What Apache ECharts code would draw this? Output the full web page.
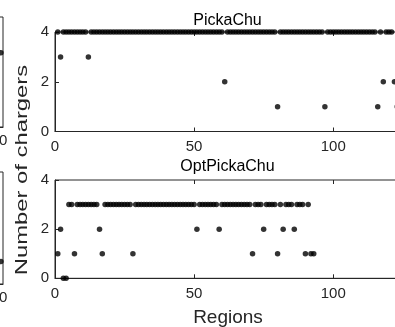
<!DOCTYPE html>
<html>
<head>
<meta charset="utf-8">
<script src="https://cdn.jsdelivr.net/npm/echarts@6/dist/echarts.min.js"></script>
<style>
html, body { margin: 0; padding: 0; background: #fff; }
#chart { width: 395px; height: 327px; }
</style>
</head>
<body>
<div id="chart"></div>
<script>
// chargers per region, index 0 = region 1
var pickaChu = [
    4, 3, 4, 4, 4, 4, 4, 4, 4, 4,
    4, 3, 4, 4, 4, 4, 4, 4, 4, 4,
    4, 4, 4, 4, 4, 4, 4, 4, 4, 4,
    4, 4, 4, 4, 4, 4, 4, 4, 4, 4,
    4, 4, 4, 4, 4, 4, 4, 4, 4, 4,
    4, 4, 4, 4, 4, 4, 4, 4, 4, 4,
    2, 4, 4, 4, 4, 4, 4, 4, 4, 4,
    4, 4, 4, 4, 4, 4, 4, 4, 4, 1,
    4, 4, 4, 4, 4, 4, 4, 4, 4, 4,
    4, 4, 4, 4, 4, 4, 1, 4, 4, 4,
    4, 4, 4, 4, 4, 4, 4, 4, 4, 4,
    4, 4, 4, 4, 4, 1, 4, 2, 4, 4,
    4, 2, 1
];
var optPickaChu = [
    1, 2, 0, 0, 3, 3, 1, 3, 3, 3,
    3, 3, 3, 3, 3, 2, 1, 3, 3, 3,
    3, 3, 3, 3, 3, 3, 3, 1, 3, 3,
    3, 3, 3, 3, 3, 3, 3, 3, 3, 3,
    3, 3, 3, 3, 3, 3, 3, 3, 3, 3,
    2, 3, 3, 3, 3, 3, 3, 3, 2, 3,
    3, 3, 3, 3, 3, 3, 3, 3, 3, 3,
    1, 3, 3, 3, 2, 3, 3, 3, 3, 1,
    3, 2, 3, 3, 3, 2, 3, 3, 3, 1,
    3, 1, 1
];
// cut-off neighbour panel on the left (only its edge is visible)
var sideTop = [[19.6, 2.7]];
var sideBottom = [[19.6, 0.8]];

var xTicks = [0, 50, 100];
var yTicks = [0, 2, 4];

function toPoints(arr) {
    var out = [];
    for (var i = 0; i < arr.length; i++) out.push([i + 1, arr[i]]);
    return out;
}

var font = 'Liberation Sans, Arial, Helvetica, sans-serif';
var axCol = '#262626';

function bottomX(grid) {
    return {
        gridIndex: grid, type: 'value', min: 0, max: 124, interval: 50,
        axisLine: { show: true, lineStyle: { color: axCol, width: 1 } },
        axisTick: { show: true, inside: true, length: 4, lineStyle: { color: axCol } },
        axisLabel: { show: true, margin: 8, fontSize: 15, fontFamily: font, color: axCol, showMaxLabel: false,
            formatter: function (v) { return xTicks.indexOf(v) >= 0 ? String(v) : ''; } },
        splitLine: { show: false }
    };
}
function topX(grid) {
    return {
        gridIndex: grid, type: 'value', position: 'top', min: 0, max: 124, interval: 50,
        axisLine: { show: false },
        axisTick: { show: true, inside: true, length: 4, lineStyle: { color: axCol } },
        axisLabel: { show: false },
        splitLine: { show: false }
    };
}
function leftY(grid) {
    return {
        gridIndex: grid, type: 'value', min: 0, max: 4, interval: 2,
        axisLine: { show: true, lineStyle: { color: axCol, width: 1 } },
        axisTick: { show: true, inside: true, length: 4, lineStyle: { color: axCol } },
        axisLabel: { margin: 6, fontSize: 15, fontFamily: font, color: axCol,
            formatter: function (v) { return yTicks.indexOf(v) >= 0 ? String(v) : ''; } },
        splitLine: { show: false }
    };
}
function sideX(grid) {
    return {
        gridIndex: grid, type: 'value', min: 0, max: 20, interval: 10,
        axisLine: { show: true, lineStyle: { color: axCol } },
        axisTick: { show: false },
        axisLabel: { margin: 6, fontSize: 15, fontFamily: font, color: axCol, padding: [0, 8, 0, 0] },
        splitLine: { show: false }
    };
}
function sideY(grid) {
    return {
        gridIndex: grid, type: 'value', min: 0, max: 4,
        axisLine: { show: false }, axisTick: { show: false }, axisLabel: { show: false },
        splitLine: { show: false }
    };
}

var myChart = echarts.init(document.getElementById('chart'));

var dot = { color: '#000' };
var gridBase = { show: true, borderColor: axCol, borderWidth: 1, containLabel: false, outerBoundsMode: 'none' };

option = {
    backgroundColor: '#fff',
    animation: false,
    title: [
        { text: 'PickaChu', left: 227.5, top: 13, textAlign: 'center', padding: 0,
          textStyle: { fontSize: 16, fontWeight: 'normal', fontFamily: font, color: '#000' } },
        { text: 'OptPickaChu', left: 227.5, top: 159, textAlign: 'center', padding: 0,
          textStyle: { fontSize: 16, fontWeight: 'normal', fontFamily: font, color: '#000' } }
    ],
    grid: [
        Object.assign({ left: 55, top: 32, width: 345, height: 99.5 }, gridBase),
        Object.assign({ left: 55, top: 180, width: 345, height: 98.3 }, gridBase),
        Object.assign({ left: -100, top: 17, width: 103, height: 110 }, gridBase),
        Object.assign({ left: -100, top: 172, width: 103, height: 112 }, gridBase)
    ],
    xAxis: [bottomX(0), topX(0), bottomX(1), topX(1), sideX(2), sideX(3)],
    yAxis: [leftY(0), leftY(1), sideY(2), sideY(3)],
    graphic: [
        { type: 'text', x: 22.5, y: 170, rotation: Math.PI / 2, scaleX: 1.4,
          style: { text: 'Number of chargers', fontSize: 17, fontFamily: font, fill: axCol,
                   align: 'center', verticalAlign: 'middle' } },
        { type: 'text', x: 228, y: 318,
          style: { text: 'Regions', fontSize: 19, fontFamily: font, fill: axCol,
                   align: 'center', verticalAlign: 'middle' } }
    ],
    series: [
        { name: 'PickaChu', type: 'scatter', xAxisIndex: 0, yAxisIndex: 0, symbolSize: 5.5, clip: false,
          itemStyle: dot, data: toPoints(pickaChu) },
        { name: 'OptPickaChu', type: 'scatter', xAxisIndex: 2, yAxisIndex: 1, symbolSize: 5.5, clip: false,
          itemStyle: dot, data: toPoints(optPickaChu) },
        { type: 'scatter', xAxisIndex: 4, yAxisIndex: 2, symbolSize: 5.5, clip: false, itemStyle: dot, data: sideTop },
        { type: 'scatter', xAxisIndex: 5, yAxisIndex: 3, symbolSize: 5.5, clip: false, itemStyle: dot, data: sideBottom }
    ]
};

myChart.setOption(option, true);
</script>
</body>
</html>
